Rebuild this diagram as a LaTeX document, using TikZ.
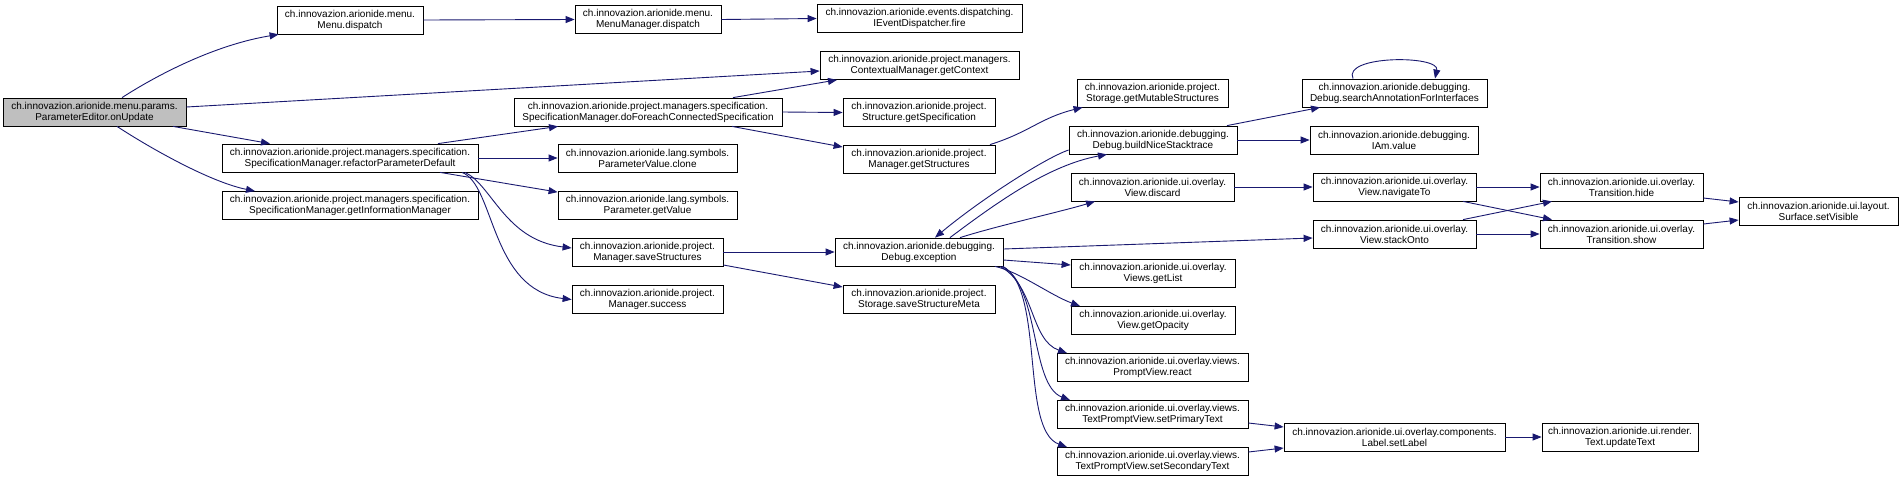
\documentclass[tikz,border=0pt]{standalone}
\usepackage{fontspec}
\setmainfont{Liberation Sans}
\usetikzlibrary{arrows.meta}
\definecolor{edgec}{HTML}{191970}
\definecolor{rootfill}{HTML}{BFBFBF}
\tikzset{
  fn/.style={draw=black, line width=0.8pt, fill=white, inner sep=0pt, align=center,
    minimum height=28, font=\fontsize{10}{11}\selectfont},
  root/.style={fn, fill=rootfill},
  call/.style={draw=edgec, line width=0.9pt, -{Triangle[length=9pt,width=7pt]}, edgec}
}
\begin{document}
\begin{tikzpicture}[x=1pt,y=-1pt]
\useasboundingbox (0,0) rectangle (1902,480);
\fill[white] (0,0) rectangle (1902,480);
% column 1
\node[root, minimum width=183] (onUpdate) at (94.5,112) {ch.innovazion.arionide.menu.params.\\ParameterEditor.onUpdate};
% column 2
\node[fn, minimum width=146] (menuDispatch) at (350,20) {ch.innovazion.arionide.menu.\\Menu.dispatch};
\node[fn, minimum width=256] (refactor) at (350,158) {ch.innovazion.arionide.project.managers.specification.\\SpecificationManager.refactorParameterDefault};
\node[fn, minimum width=256] (getInfoMgr) at (350,205.5) {ch.innovazion.arionide.project.managers.specification.\\SpecificationManager.getInformationManager};
% column 3
\node[fn, minimum width=146] (menuManager) at (648,19.5) {ch.innovazion.arionide.menu.\\MenuManager.dispatch};
\node[fn, minimum width=268] (doForeach) at (648,112) {ch.innovazion.arionide.project.managers.specification.\\SpecificationManager.doForeachConnectedSpecification};
\node[fn, minimum width=179] (clone) at (647.5,158) {ch.innovazion.arionide.lang.symbols.\\ParameterValue.clone};
\node[fn, minimum width=179] (getValue) at (647.5,205.5) {ch.innovazion.arionide.lang.symbols.\\Parameter.getValue};
\node[fn, minimum width=151] (saveStructures) at (647.5,252) {ch.innovazion.arionide.project.\\Manager.saveStructures};
\node[fn, minimum width=151] (success) at (647.5,299.5) {ch.innovazion.arionide.project.\\Manager.success};
% column 4
\node[fn, minimum width=205] (iEvent) at (919.5,18.5) {ch.innovazion.arionide.events.dispatching.\\IEventDispatcher.fire};
\node[fn, minimum width=199] (getContext) at (919.5,65.5) {ch.innovazion.arionide.project.managers.\\ContextualManager.getContext};
\node[fn, minimum width=152] (getSpec) at (919,112.5) {ch.innovazion.arionide.project.\\Structure.getSpecification};
\node[fn, minimum width=152] (getStructures) at (919,159) {ch.innovazion.arionide.project.\\Manager.getStructures};
\node[fn, minimum width=168] (exception) at (919,252) {ch.innovazion.arionide.debugging.\\Debug.exception};
\node[fn, minimum width=152] (saveMeta) at (919,299.5) {ch.innovazion.arionide.project.\\Storage.saveStructureMeta};
% column 5
\node[fn, minimum width=151] (getMutable) at (1152.5,93) {ch.innovazion.arionide.project.\\Storage.getMutableStructures};
\node[fn, minimum width=168] (buildNice) at (1153,140) {ch.innovazion.arionide.debugging.\\Debug.buildNiceStacktrace};
\node[fn, minimum width=163] (discard) at (1152.5,187) {ch.innovazion.arionide.ui.overlay.\\View.discard};
\node[fn, minimum width=164] (getList) at (1153,273) {ch.innovazion.arionide.ui.overlay.\\Views.getList};
\node[fn, minimum width=164] (getOpacity) at (1153,320.5) {ch.innovazion.arionide.ui.overlay.\\View.getOpacity};
\node[fn, minimum width=191] (react) at (1152.5,367.5) {ch.innovazion.arionide.ui.overlay.views.\\PromptView.react};
\node[fn, minimum width=191] (setPrimary) at (1152.5,414.5) {ch.innovazion.arionide.ui.overlay.views.\\TextPromptView.setPrimaryText};
\node[fn, minimum width=191] (setSecondary) at (1152.5,461.5) {ch.innovazion.arionide.ui.overlay.views.\\TextPromptView.setSecondaryText};
% column 6
\node[fn, minimum width=185] (searchAnno) at (1394.5,93) {ch.innovazion.arionide.debugging.\\Debug.searchAnnotationForInterfaces};
\node[fn, minimum width=168] (iam) at (1394,140) {ch.innovazion.arionide.debugging.\\IAm.value};
\node[fn, minimum width=163] (navigateTo) at (1394.5,187) {ch.innovazion.arionide.ui.overlay.\\View.navigateTo};
\node[fn, minimum width=163] (stackOnto) at (1394.5,234) {ch.innovazion.arionide.ui.overlay.\\View.stackOnto};
\node[fn, minimum width=221] (label) at (1394.5,437) {ch.innovazion.arionide.ui.overlay.components.\\Label.setLabel};
% column 7
\node[fn, minimum width=163] (hide) at (1621.5,187) {ch.innovazion.arionide.ui.overlay.\\Transition.hide};
\node[fn, minimum width=163] (show) at (1621.5,234) {ch.innovazion.arionide.ui.overlay.\\Transition.show};
\node[fn, minimum width=156] (updateText) at (1620,437) {ch.innovazion.arionide.ui.render.\\Text.updateText};
% column 8
\node[fn, minimum width=159] (surface) at (1818.5,211.5) {ch.innovazion.arionide.ui.layout.\\Surface.setVisible};

% edges from onUpdate
\draw[call] ([xshift=27.5]onUpdate.north) .. controls (165,70) and (220,44) .. ([xshift=2]menuDispatch.south west);
\draw[call] ([yshift=5]onUpdate.east) -- ([yshift=-5.5]getContext.west);
\draw[call] ([xshift=78.5]onUpdate.south) -- ([xshift=-80]refactor.north);
\draw[call] ([xshift=22.5]onUpdate.south) .. controls (150,148) and (210,182) .. ([xshift=-95]getInfoMgr.north);
% menu chain
\draw[call] (menuDispatch.east) -- (menuManager.west);
\draw[call] (menuManager.east) -- (iEvent.west);
% refactor
\draw[call] ([xshift=88]refactor.north) -- ([xshift=-90]doForeach.south);
\draw[call] (refactor.east) -- (clone.west);
\draw[call] ([xshift=90]refactor.south) -- ([yshift=-1]getValue.north west);
\draw[call] ([xshift=115]refactor.south) .. controls (492,185) and (505,240) .. ([yshift=4]saveStructures.west);
\draw[call] ([xshift=112]refactor.south) .. controls (495,185) and (490,290) .. (success.west);
% doForeach
\draw[call] ([xshift=85]doForeach.north) -- ([xshift=-82.5]getContext.south);
\draw[call] (doForeach.east) -- (getSpec.west);
\draw[call] ([xshift=84]doForeach.south) -- ([yshift=12]getStructures.west);
% getStructures
\draw[call] ([xshift=71]getStructures.north) .. controls (1030,132) and (1040,118) .. ([xshift=6]getMutable.south west);
% saveStructures
\draw[call] (saveStructures.east) -- (exception.west);
\draw[call] ([yshift=-13]saveStructures.east) -- ([yshift=12.5]saveMeta.west);
% exception and buildNice
\draw[call] ([xshift=31]exception.north) .. controls (1000,200) and (1050,165) .. ([xshift=-46]buildNice.south);
\draw[call] ([yshift=-10]buildNice.west) .. controls (1045,158) and (980,200) .. ([xshift=16]exception.north);
\draw[call] ([xshift=41]exception.north) .. controls (1000,225) and (1060,212) .. ([xshift=-57.5]discard.south);
\draw[call] ([yshift=3]exception.east) -- ([yshift=-4]stackOnto.west);
\draw[call] ([yshift=-8]exception.east) -- ([yshift=8]getList.west);
\draw[call] ([xshift=76]exception.south) .. controls (1020,272) and (1050,295) .. ([xshift=-73]getOpacity.north);
\draw[call] ([xshift=81]exception.south) .. controls (1035,285) and (1030,340) .. ([xshift=-85.5]react.north);
\draw[call] ([xshift=83]exception.south) .. controls (1040,285) and (1030,385) .. ([xshift=-82.5]setPrimary.north);
\draw[call] ([xshift=84]exception.south) .. controls (1045,290) and (1020,430) .. ([xshift=-85.5]setSecondary.north);
% buildNice
\draw[call] ([xshift=74]buildNice.north) -- ([xshift=-74.5]searchAnno.south);
\draw[call] (buildNice.east) -- (iam.west);
\draw[call] ([xshift=-41.5]searchAnno.north) .. controls (1342,55) and (1440,55) .. ([xshift=40.5]searchAnno.north);
% overlay views
\draw[call] (discard.east) -- (navigateTo.west);
\draw[call] (navigateTo.east) -- (hide.west);
\draw[call] ([xshift=68.5]navigateTo.south) -- ([xshift=-69.5]show.north);
\draw[call] ([xshift=68.5]stackOnto.north) -- ([xshift=-69.5]hide.south);
\draw[call] (stackOnto.east) -- (show.west);
\draw[call] ([yshift=-11]hide.east) -- ([yshift=9.5]surface.west);
\draw[call] ([yshift=10]show.east) -- ([yshift=-8.5]surface.west);
% labels
\draw[call] ([yshift=-8.5]setPrimary.east) -- ([yshift=10]label.west);
\draw[call] ([yshift=9.5]setSecondary.east) -- ([yshift=-11]label.west);
\draw[call] (label.east) -- (updateText.west);
\end{tikzpicture}
\end{document}
